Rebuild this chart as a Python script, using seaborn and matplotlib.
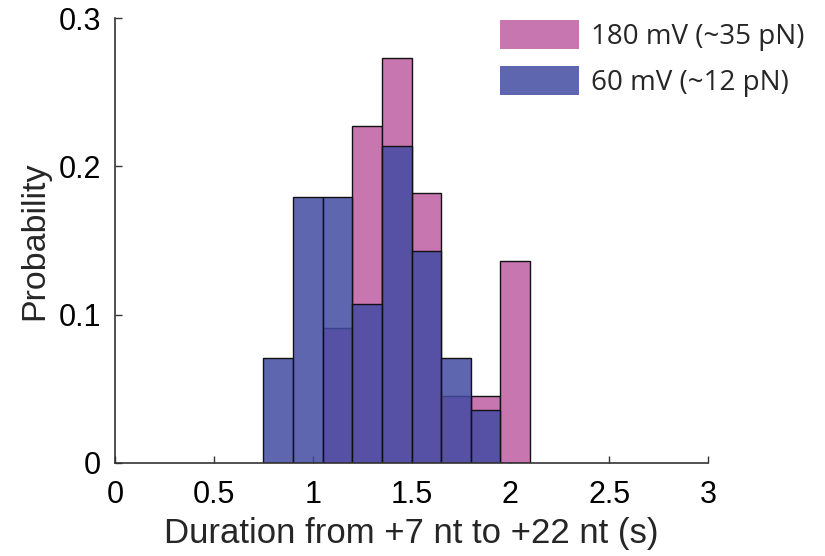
import numpy as np
import pandas as pd
import matplotlib
matplotlib.use("Agg")
import matplotlib.pyplot as plt
from matplotlib.patches import Patch
import seaborn as sns

# ---- data ----
bin_edges = [0.75, 0.90, 1.05, 1.20, 1.35, 1.50, 1.65, 1.80, 1.95, 2.10]
prob_180mV = [0.0, 0.0, 0.091, 0.227, 0.273, 0.182, 0.045, 0.045, 0.136]
prob_60mV = [0.071, 0.179, 0.179, 0.107, 0.214, 0.143, 0.071, 0.036, 0.0]
series_labels = ["180 mV (~35 pN)", "60 mV (~12 pN)"]
x_ticks = [0, 0.5, 1, 1.5, 2, 2.5, 3]
x_tick_labels = ["0", "0.5", "1", "1.5", "2", "2.5", "3"]
y_ticks = [0, 0.1, 0.2, 0.3]
y_tick_labels = ["0", "0.1", "0.2", "0.3"]

sns.set_style("ticks")
plt.rcParams["font.family"] = ["Liberation Sans", "DejaVu Sans"]

pink = "#c876b0"
blue = "#424ba2"

fig = plt.figure(figsize=(8.25, 5.56), dpi=100)
ax = fig.add_axes([0.1394, 0.1673, 0.7188, 0.8003])

edges = np.array(bin_edges)
centers = (edges[:-1] + edges[1:]) / 2
df180 = pd.DataFrame({"t": centers, "p": prob_180mV})
df60 = pd.DataFrame({"t": centers, "p": prob_60mV})

sns.histplot(data=df180, x="t", weights="p", bins=list(bin_edges), stat="count",
             color=pink, alpha=1.0, edgecolor="#111111", linewidth=1.0, ax=ax)
sns.histplot(data=df60, x="t", weights="p", bins=list(bin_edges), stat="count",
             color=blue, alpha=0.85, edgecolor="#111111", linewidth=1.0, ax=ax)

ax.set_xlim(0, 3)
ax.set_ylim(0, 0.3)
ax.set_xticks(x_ticks)
ax.set_xticklabels(x_tick_labels)
ax.set_yticks(y_ticks)
ax.set_yticklabels(y_tick_labels)
ax.tick_params(direction="in", length=5, width=1, colors="#333333",
               labelcolor="black", labelsize=22)
ax.tick_params(axis="x", pad=12)
ax.tick_params(axis="y", pad=10)
for s in ["top", "right"]:
    ax.spines[s].set_visible(False)
for s in ["left", "bottom"]:
    ax.spines[s].set_color("#333333")
    ax.spines[s].set_linewidth(1.2)

ax.set_xlabel("Duration from +7 nt to +22 nt (s)", fontsize=25, labelpad=5)
ax.set_ylabel("Probability", fontsize=24.5, labelpad=6)

handles = [Patch(facecolor=pink, edgecolor="none"),
           Patch(facecolor="#5e66b0", edgecolor="none")]
fs = 20
fs_px = fs * 100 / 72
leg = ax.legend(handles, series_labels, loc="upper left",
                bbox_to_anchor=(500 / 825, 1 - 20 / 556),
                bbox_transform=fig.transFigure, frameon=False,
                prop={"family": "Open Sans", "size": fs},
                handlelength=79 / fs_px, handleheight=34 / fs_px,
                labelspacing=(49 - 34) / fs_px,
                handletextpad=12 / fs_px, borderaxespad=0, borderpad=0)

fig.savefig("out.png", dpi=100)
